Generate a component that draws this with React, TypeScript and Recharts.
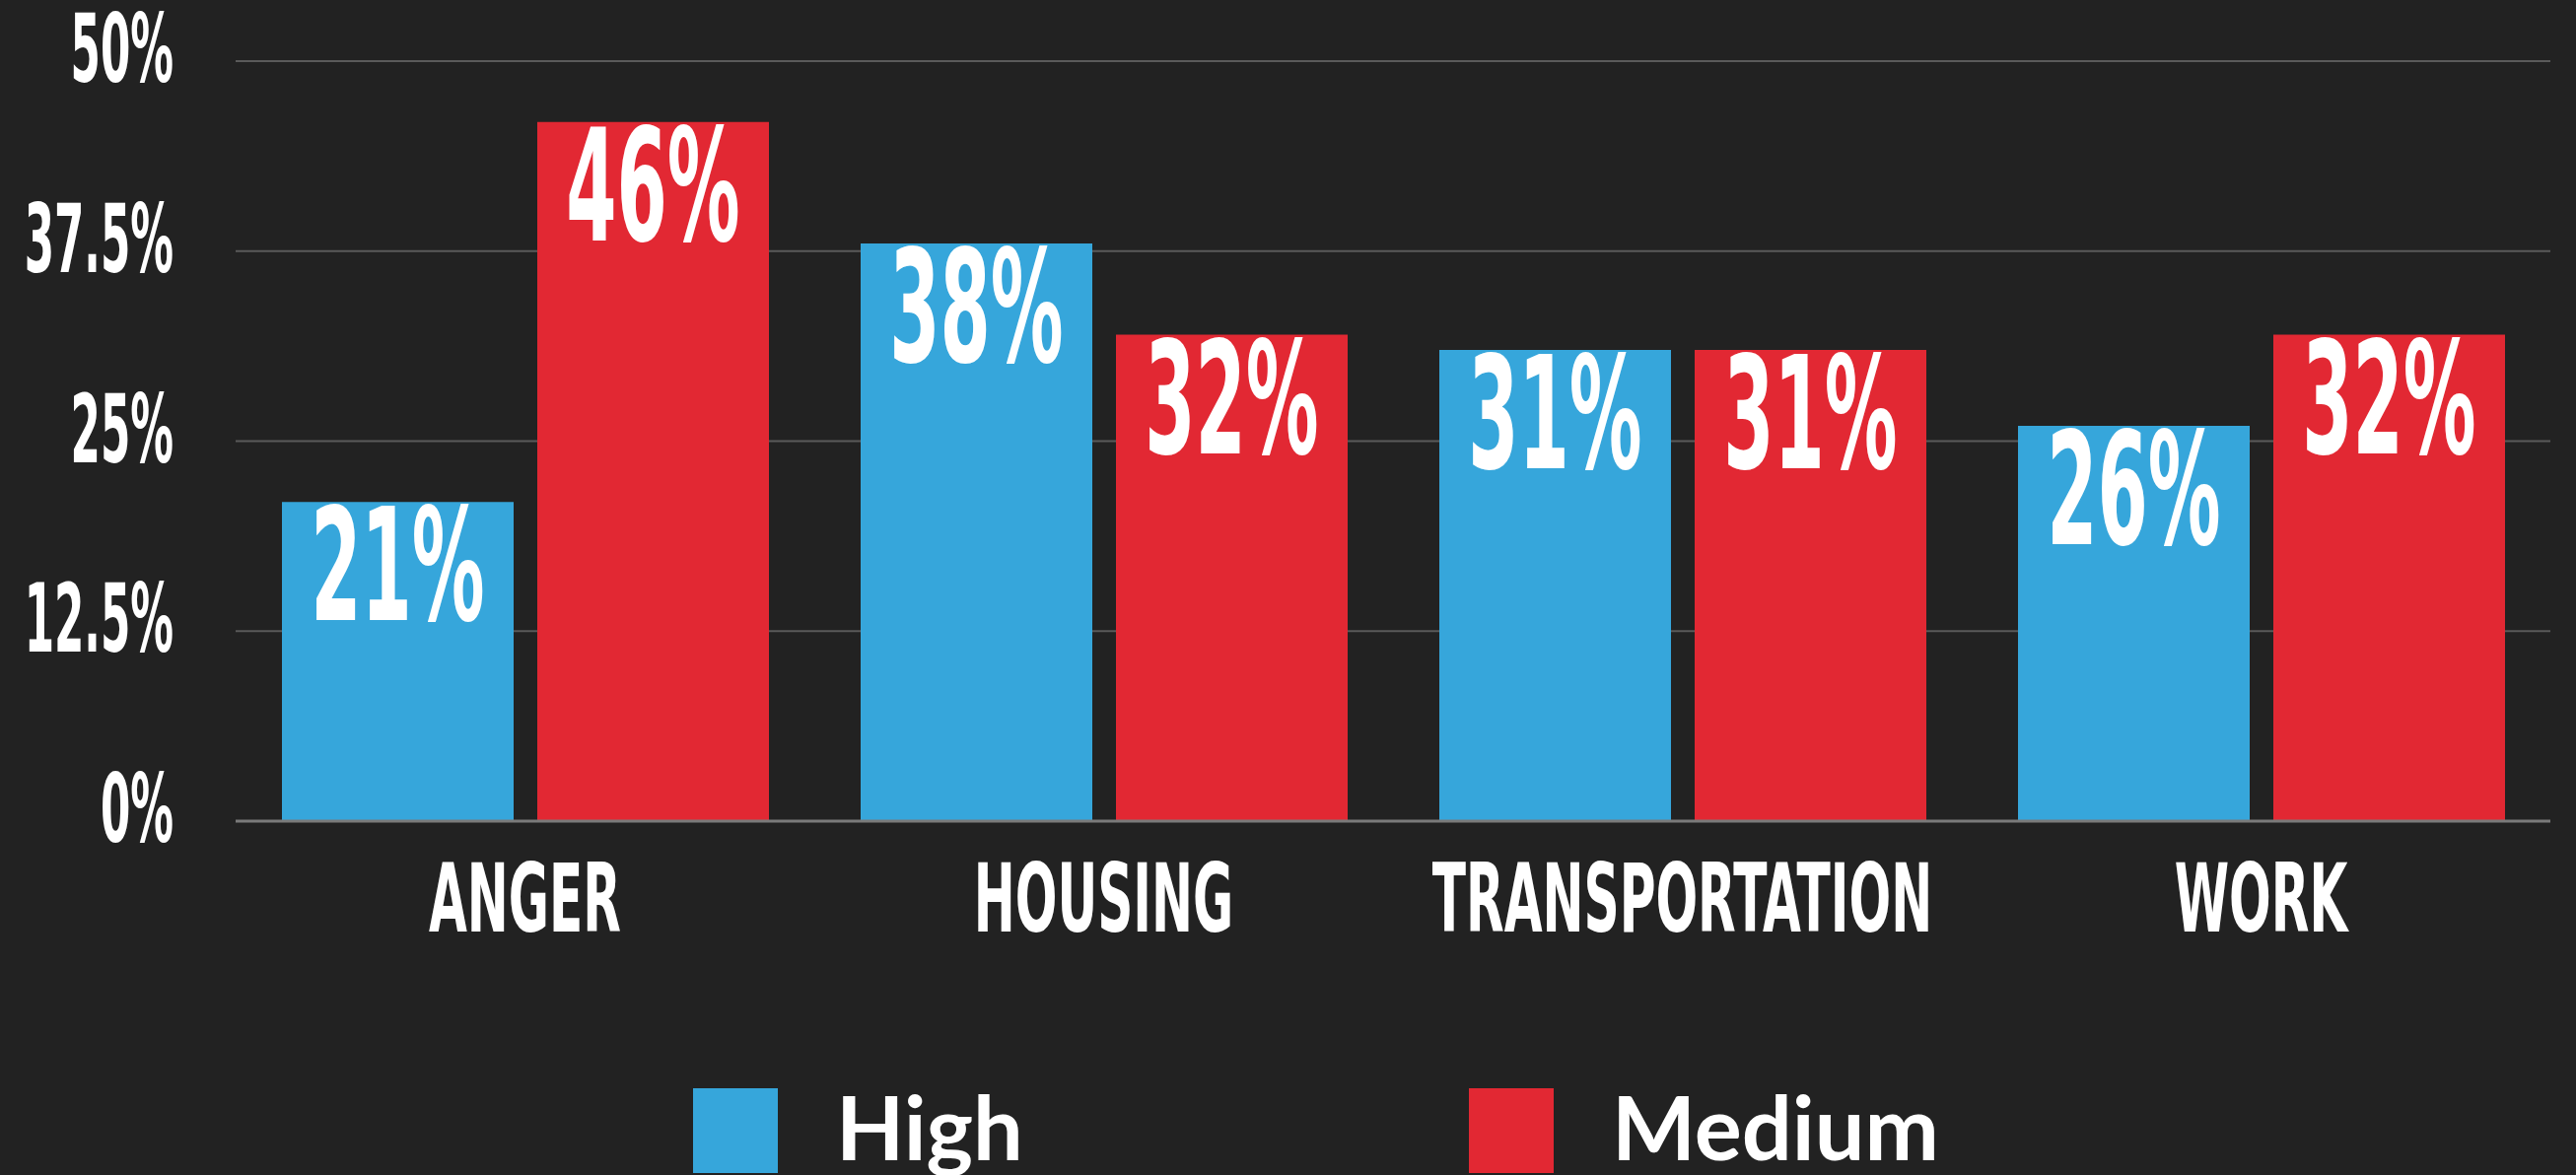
import { BarChart, Bar, XAxis, YAxis, CartesianGrid, Legend, LabelList } from 'recharts';

const categories = ['ANGER', 'HOUSING', 'TRANSPORTATION', 'WORK'];
const highValues = [21, 38, 31, 26];
const mediumValues = [46, 32, 31, 32];
const yTicks = [0, 12.5, 25, 37.5, 50];
const seriesNames = ['High', 'Medium'];
const seriesColors = ['#36A6DB', '#E22833'];

const data = categories.map((name, i) => ({
  name,
  high: highValues[i],
  medium: mediumValues[i],
}));

const condensed = '"DejaVu Sans Condensed", "DejaVu Sans", sans-serif';

// y axis labels sit a little above their grid line
const YTick = (props: any) => {
  const { y, payload } = props;
  return (
    <text
      transform={`translate(176, ${y + 21}) scale(0.5, 1)`}
      textAnchor="end"
      fill="#ffffff"
      fontFamily={condensed}
      fontWeight={700}
      fontSize={97}
    >
      {`${payload.value}%`}
    </text>
  );
};

const XTick = (props: any) => {
  const { x, y, payload } = props;
  return (
    <text
      transform={`translate(${x}, ${y + 112}) scale(0.575, 1)`}
      textAnchor="middle"
      fill="#ffffff"
      fontFamily={condensed}
      fontWeight={700}
      fontSize={97}
    >
      {payload.value}
    </text>
  );
};

const BarValue = (props: any) => {
  const { x, y, width, value } = props;
  return (
    <text
      transform={`translate(${x + width / 2}, ${y + 120}) scale(0.515, 1)`}
      textAnchor="middle"
      fill="#ffffff"
      fontFamily={condensed}
      fontWeight={700}
      fontSize={159}
    >
      {`${value}%`}
    </text>
  );
};

const LegendContent = () => {
  const itemX = [703, 1490];
  return (
    <svg width={2613} height={100} style={{ display: 'block' }}>
      {seriesNames.map((name, i) => (
        <g key={name}>
          <rect x={itemX[i]} y={12} width={86} height={86} fill={seriesColors[i]} />
          <text
            x={itemX[i] + 145}
            y={85}
            fill="#ffffff"
            fontFamily="Lato, 'Noto Sans', sans-serif"
            fontWeight={700}
            fontSize={90}
          >
            {name}
          </text>
        </g>
      ))}
    </svg>
  );
};

const App = () => {
  return (
    <div style={{ position: 'absolute', left: 0, top: 0, width: 2613, height: 1192, background: '#222222' }}>
      <BarChart
        width={2613}
        height={1192}
        data={data}
        margin={{ top: 62, right: 26, left: 0, bottom: 0 }}
        barGap={24}
        barSize={235}
      >
        <CartesianGrid vertical={false} stroke="#5a5a5a" strokeWidth={2} />
        <XAxis
          dataKey="name"
          height={259}
          axisLine={{ stroke: '#7a7a7a', strokeWidth: 3 }}
          tickLine={false}
          tickSize={0}
          tickMargin={0}
          tick={<XTick />}
          interval={0}
        />
        <YAxis
          width={239}
          domain={[0, 50]}
          ticks={yTicks}
          axisLine={false}
          tickLine={false}
          tickSize={0}
          tick={<YTick />}
          interval={0}
        />
        <Legend verticalAlign="bottom" content={<LegendContent />} />
        <Bar dataKey="high" name={seriesNames[0]} fill={seriesColors[0]} isAnimationActive={false}>
          <LabelList dataKey="high" content={<BarValue />} />
        </Bar>
        <Bar dataKey="medium" name={seriesNames[1]} fill={seriesColors[1]} isAnimationActive={false}>
          <LabelList dataKey="medium" content={<BarValue />} />
        </Bar>
      </BarChart>
    </div>
  );
};

export default App;
